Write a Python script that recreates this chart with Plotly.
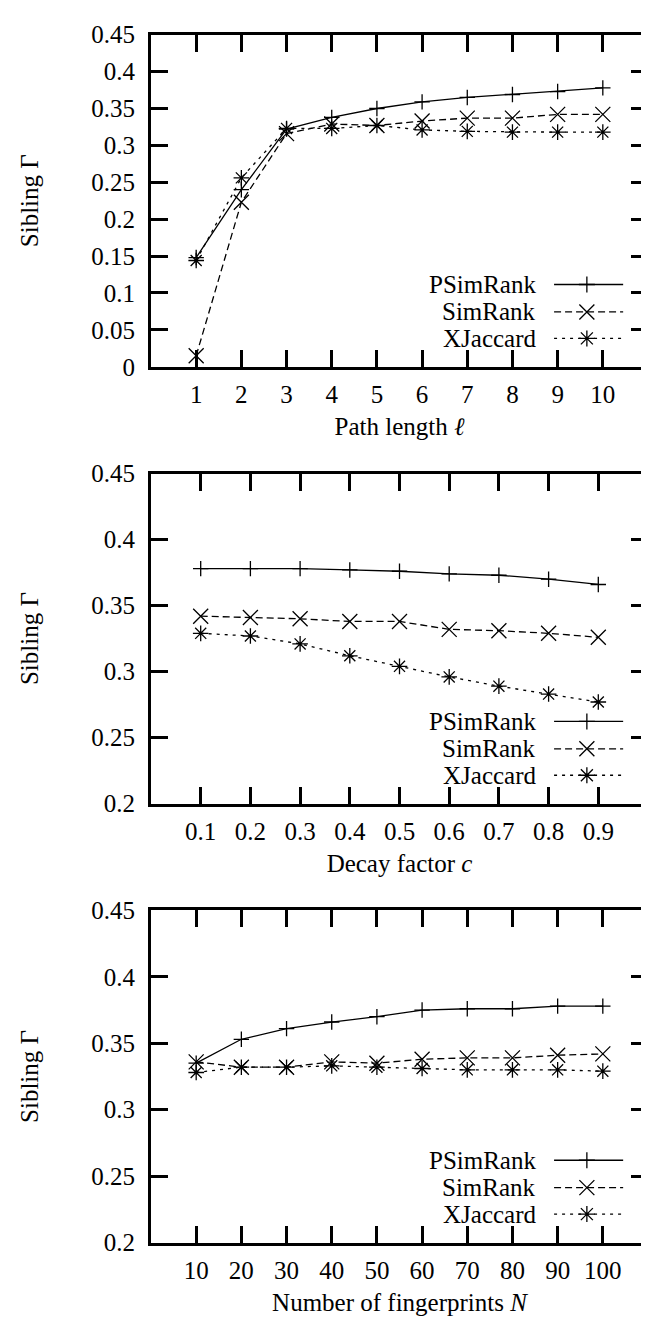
import plotly.graph_objects as go

# ---------------- data ----------------
series_names = ["PSimRank", "SimRank", "XJaccard"]

path_len = [1, 2, 3, 4, 5, 6, 7, 8, 9, 10]
p1_psimrank = [0.148, 0.240, 0.322, 0.338, 0.350, 0.359, 0.365, 0.369, 0.373, 0.378]
p1_simrank = [0.015, 0.223, 0.316, 0.329, 0.327, 0.333, 0.337, 0.337, 0.342, 0.342]
p1_xjaccard = [0.144, 0.256, 0.323, 0.323, 0.327, 0.321, 0.319, 0.318, 0.318, 0.318]

decay = [0.1, 0.2, 0.3, 0.4, 0.5, 0.6, 0.7, 0.8, 0.9]
p2_psimrank = [0.378, 0.378, 0.378, 0.377, 0.376, 0.374, 0.373, 0.370, 0.366]
p2_simrank = [0.342, 0.341, 0.340, 0.338, 0.338, 0.332, 0.331, 0.329, 0.326]
p2_xjaccard = [0.329, 0.327, 0.321, 0.312, 0.304, 0.296, 0.289, 0.283, 0.277]

fingerprints = [10, 20, 30, 40, 50, 60, 70, 80, 90, 100]
p3_psimrank = [0.335, 0.353, 0.361, 0.366, 0.370, 0.375, 0.376, 0.376, 0.378, 0.378]
p3_simrank = [0.336, 0.332, 0.332, 0.336, 0.335, 0.338, 0.339, 0.339, 0.341, 0.342]
p3_xjaccard = [0.328, 0.332, 0.332, 0.333, 0.332, 0.331, 0.330, 0.330, 0.330, 0.329]

x_titles = ["Path length <i>ℓ</i>", "Decay factor <i>c</i>", "Number of fingerprints <i>N</i>"]
y_title = "Sibling Γ"

x_ticktext_1 = ["1", "2", "3", "4", "5", "6", "7", "8", "9", "10"]
x_ticktext_2 = ["0.1", "0.2", "0.3", "0.4", "0.5", "0.6", "0.7", "0.8", "0.9"]
x_ticktext_3 = ["10", "20", "30", "40", "50", "60", "70", "80", "90", "100"]

y_ticks_1 = [0, 0.05, 0.1, 0.15, 0.2, 0.25, 0.3, 0.35, 0.4, 0.45]
y_ticktext_1 = ["0", "0.05", "0.1", "0.15", "0.2", "0.25", "0.3", "0.35", "0.4", "0.45"]
y_ticks_23 = [0.2, 0.25, 0.3, 0.35, 0.4, 0.45]
y_ticktext_23 = ["0.2", "0.25", "0.3", "0.35", "0.4", "0.45"]

# ---------------- style ----------------
W, H = 649, 1321
FONT = "Liberation Serif"
FS = 25
dashes = ["solid", "7px,4px", "3px,5px"]
symbols = ["cross-thin", "x-thin", "asterisk"]
sizes = [11, 15, 13]

# plot-area pixel boxes (left, right, top, bottom)
boxes = [(143, 640, 14, 353), (143, 640, 462, 799), (143, 640, 908, 1247)]

panels = [
    (path_len, [p1_psimrank, p1_simrank, p1_xjaccard], [0, 11], path_len, x_ticktext_1,
     [0, 0.45], y_ticks_1, y_ticktext_1),
    (decay, [p2_psimrank, p2_simrank, p2_xjaccard], [0, 1.0], decay, x_ticktext_2,
     [0.2, 0.45], y_ticks_23, y_ticktext_23),
    (fingerprints, [p3_psimrank, p3_simrank, p3_xjaccard], [0, 110], fingerprints, x_ticktext_3,
     [0.2, 0.45], y_ticks_23, y_ticktext_23),
]

fig = go.Figure()
layout = dict(
    width=W, height=H, margin=dict(l=0, r=0, t=0, b=0),
    paper_bgcolor="white", plot_bgcolor="white",
    font=dict(family=FONT, size=FS, color="black"),
    showlegend=False,
)
shapes = []
annotations = []

for k, (xs, ys_list, xr, xtv, xtt, yr, ytv, ytt) in enumerate(panels):
    sfx = "" if k == 0 else str(k + 1)
    xa, ya = "x" + sfx, "y" + sfx
    l, r, t, b = boxes[k]
    for i, ys in enumerate(ys_list):
        fig.add_trace(go.Scatter(
            x=xs, y=ys, xaxis=xa, yaxis=ya, mode="lines+markers", name=series_names[i],
            line=dict(color="black", width=1.3, dash=dashes[i]),
            marker=dict(symbol=symbols[i], size=sizes[i], color="black",
                        line=dict(color="black", width=1.3)),
        ))
    axis_common = dict(
        showgrid=False, zeroline=False, showline=True, linecolor="black", linewidth=3,
        mirror="allticks", ticks="inside", ticklen=17, tickwidth=2.5, tickcolor="black",
        tickfont=dict(family=FONT, size=FS, color="black"),
    )
    layout["xaxis" + sfx] = dict(
        axis_common, domain=[l / W, r / W], range=xr, anchor=ya,
        tickmode="array", tickvals=xtv, ticktext=xtt, ticklabelstandoff=3,
        title=dict(text=x_titles[k], font=dict(family=FONT, size=FS), standoff=11),
    )
    layout["yaxis" + sfx] = dict(
        axis_common, domain=[1 - b / H, 1 - t / H], range=yr, anchor=xa,
        tickmode="array", tickvals=ytv, ticktext=ytt, ticklabelstandoff=8,
        title=dict(text=y_title, font=dict(family=FONT, size=FS), standoff=46),
    )
    # manual legend (text right-aligned, line sample to its right)
    xd, yd = xa + " domain", ya + " domain"
    ph = b - t
    rows = [84 / ph, 56 / ph, 29 / ph]
    for i in range(3):
        annotations.append(dict(
            xref=xd, yref=yd, x=0.779, y=rows[i], xanchor="right", yanchor="middle",
            text=series_names[i], showarrow=False, font=dict(family=FONT, size=FS, color="black"),
        ))
        shapes.append(dict(
            type="line", xref=xd, yref=yd, x0=0.811, x1=0.950, y0=rows[i], y1=rows[i],
            line=dict(color="black", width=1.3, dash=dashes[i]),
        ))
        if i == 0:
            path = "M-8,0 L8,0 M0,-8 L0,8"
        elif i == 1:
            path = "M-7.5,-7.5 L7.5,7.5 M-7.5,7.5 L7.5,-7.5"
        else:
            path = "M-8,0 L8,0 M0,-8 L0,8 M-6,-6 L6,6 M-6,6 L6,-6"
        shapes.append(dict(
            type="path", xref=xd, yref=yd, xsizemode="pixel", ysizemode="pixel",
            xanchor=0.877, yanchor=rows[i], path=path,
            line=dict(color="black", width=1.3),
        ))

layout["shapes"] = shapes
layout["annotations"] = annotations
fig.update_layout(**layout)
fig.write_html("out.html")
